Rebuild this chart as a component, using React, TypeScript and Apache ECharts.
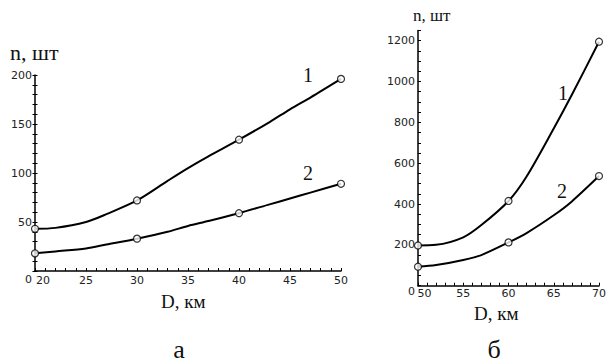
import React, { useEffect, useRef } from "react";
import * as echarts from "echarts";

// ---- data ----
const leftD = [20, 22, 25, 27, 30, 33, 35, 37, 40, 43, 45, 47, 50];
const leftCurve1 = [43, 44, 50, 58, 72, 92, 105, 117, 134, 152, 165, 177, 196];
const leftCurve2 = [18, 20, 23, 27, 33, 40, 46, 51, 59, 68, 74, 80, 89];
const leftMarkD = [20, 30, 40, 50];
const leftMark1 = [43, 72, 134, 196];
const leftMark2 = [18, 33, 59, 89];

const rightD = [50, 52, 55, 57, 60, 62, 65, 67, 70];
const rightCurve1 = [197, 200, 237, 297, 415, 535, 770, 935, 1195];
const rightCurve2 = [93, 101, 126, 150, 212, 258, 345, 413, 537];
const rightMarkD = [50, 60, 70];
const rightMark1 = [197, 415, 1195];
const rightMark2 = [93, 212, 537];

const leftXRange = [20, 50, 5];
const leftYRange = [0, 200, 50];
const rightXRange = [50, 70, 5];
const rightYRange = [0, 1250, 200];
const rightYLabelMax = 1200;

const yTitle = "n, шт";
const xTitle = "D, км";
const captions = ["а", "б"];
const curveNames = ["1", "2"];

const zip = (xs: number[], ys: number[]) => xs.map((x, i) => [x, ys[i]]);

const LABEL_FONT = "DejaVu Sans";
const SERIF = "'Liberation Serif', 'Times New Roman', serif";

export default function App() {
  const ref = useRef<HTMLDivElement>(null);
  useEffect(() => {
    document.body.style.margin = "0";
    if (!ref.current) return;
    const chart = echarts.init(ref.current, undefined, { renderer: "svg" });

    const labelBase = { color: "#222", fontFamily: LABEL_FONT, fontSize: 11 };
    const axisLine = { show: true, lineStyle: { color: "#000", width: 1.5 } };
    const tickStyle = { color: "#000", width: 1 };

    const xAxisCommon = (gridIndex: number, range: number[], shift: number, margin: number) => ({
      gridIndex,
      type: "value",
      min: range[0],
      max: range[1],
      interval: range[2],
      axisLine,
      axisTick: { show: true, inside: true, length: 3, lineStyle: tickStyle },
      minorTick: { show: true, splitNumber: 5, length: 3, lineStyle: tickStyle },
      splitLine: { show: false },
      axisLabel: {
        ...labelBase,
        margin,
        formatter: (v: number) => (v === range[0] ? `{f|${v}}` : String(v)),
        rich: { f: { ...labelBase, padding: [0, 0, 0, shift] } },
      },
    });

    const lineSeries = (xi: number, yi: number, xs: number[], ys: number[]) => ({
      type: "line",
      xAxisIndex: xi,
      yAxisIndex: yi,
      data: zip(xs, ys),
      smooth: 0.3,
      showSymbol: false,
      lineStyle: { color: "#000", width: 2 },
      clip: false,
      z: 2,
    });
    const markSeries = (xi: number, yi: number, xs: number[], ys: number[]) => ({
      type: "scatter",
      xAxisIndex: xi,
      yAxisIndex: yi,
      data: zip(xs, ys),
      symbol: "circle",
      symbolSize: 7,
      itemStyle: { color: "#fff", borderColor: "#000", borderWidth: 1.2 },
      clip: false,
      z: 5,
    });

    const txt = (x: number, y: number, text: string, size: number, align = "left") => ({
      type: "text",
      x,
      y,
      style: {
        text,
        fill: "#111",
        font: `${size}px ${SERIF}`,
        textAlign: align,
        textVerticalAlign: "middle",
      },
      z: 10,
    });

    chart.setOption({
      animation: false,
      backgroundColor: "#fff",
      grid: [
        { left: 35, top: 75, width: 306, height: 196, containLabel: false },
        { left: 418, top: 30.5, width: 187, height: 255.2, containLabel: false },
      ],
      xAxis: [xAxisCommon(0, leftXRange, 16, 4), xAxisCommon(1, rightXRange, 13, 2)],
      yAxis: [
        {
          gridIndex: 0,
          type: "value",
          position: "left",
          min: leftYRange[0],
          max: leftYRange[1],
          interval: leftYRange[2],
          axisLine,
          axisTick: { show: true, inside: false, length: 2.5, lineStyle: tickStyle },
          minorTick: { show: true, splitNumber: 5, length: 2.5, lineStyle: tickStyle },
          splitLine: { show: false },
          axisLabel: {
            ...labelBase,
            margin: 3,
            formatter: (v: number) => (v === 0 ? "{z|0}" : String(v)),
            rich: { z: { ...labelBase, padding: [16, 0, 0, 0] } },
          },
        },
        {
          gridIndex: 0,
          type: "value",
          position: "left",
          offset: 0,
          min: leftYRange[0],
          max: leftYRange[1],
          interval: leftYRange[2],
          axisLine: { show: false },
          axisTick: { show: true, inside: true, length: 2.5, lineStyle: tickStyle },
          minorTick: { show: true, splitNumber: 5, length: 2.5, lineStyle: tickStyle },
          splitLine: { show: false },
          axisLabel: { show: false },
        },
        {
          gridIndex: 1,
          type: "value",
          position: "left",
          min: rightYRange[0],
          max: rightYRange[1],
          interval: rightYRange[2],
          axisLine,
          axisTick: { show: true, inside: true, length: 3, lineStyle: tickStyle },
          minorTick: { show: true, splitNumber: 4, length: 3, lineStyle: tickStyle },
          splitLine: { show: false },
          axisLabel: {
            ...labelBase,
            margin: 3,
            formatter: (v: number) =>
              v === 0 ? "{z|0}" : v > rightYLabelMax ? "" : String(v),
            rich: { z: { ...labelBase, padding: [12, 0, 0, 0] } },
          },
        },
      ],
      series: [
        lineSeries(0, 0, leftD, leftCurve1),
        lineSeries(0, 0, leftD, leftCurve2),
        markSeries(0, 0, leftMarkD, leftMark1),
        markSeries(0, 0, leftMarkD, leftMark2),
        lineSeries(1, 2, rightD, rightCurve1),
        lineSeries(1, 2, rightD, rightCurve2),
        markSeries(1, 2, rightMarkD, rightMark1),
        markSeries(1, 2, rightMarkD, rightMark2),
      ],
      graphic: [
        txt(10, 52, yTitle, 22),
        txt(413, 15, yTitle, 17),
        txt(161, 301, xTitle, 19),
        txt(474, 313, xTitle, 19),
        txt(179, 349, captions[0], 26, "center"),
        txt(494, 349, captions[1], 26, "center"),
        txt(308, 75, curveNames[0], 20, "center"),
        txt(308, 173, curveNames[1], 20, "center"),
        txt(563, 93, curveNames[0], 20, "center"),
        txt(562, 191, curveNames[1], 20, "center"),
      ],
    });
    return () => chart.dispose();
  }, []);
  return (
    <div
      ref={ref}
      style={{ position: "absolute", left: 0, top: 0, width: 609, height: 362 }}
    />
  );
}
